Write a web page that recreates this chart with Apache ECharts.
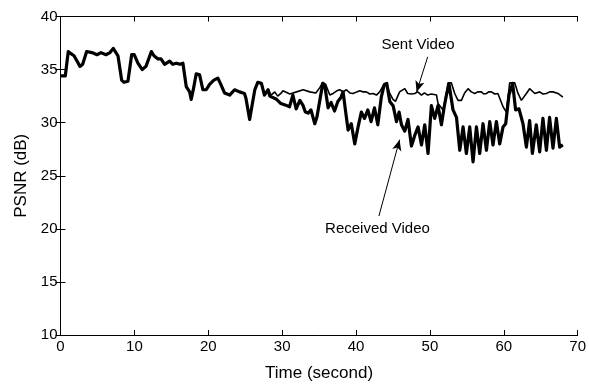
<!DOCTYPE html>
<html>
<head>
<meta charset="utf-8">
<script src="https://cdn.jsdelivr.net/npm/echarts@6/dist/echarts.min.js"></script>
<style>
  html, body { margin: 0; padding: 0; background: #fff; }
  #chart { width: 589px; height: 388px; }
</style>
</head>
<body>
<div id="chart"></div>
<script>
// Both streams follow the same PSNR trace for the first ~28 s.
const sharedTime = [0.0, 0.65, 1.05, 1.42, 1.83, 2.64, 3.0, 3.54, 4.26, 4.94, 5.48, 6.15, 6.7, 7.14, 7.78,
  8.28, 8.59, 9.13, 9.63, 9.98, 10.48, 11.06, 11.57, 12.3, 12.65, 12.92, 13.19, 13.6, 14.09, 14.77,
  15.2, 15.66, 16.16, 16.57, 17.02, 17.48, 17.69, 18.0, 18.37, 18.83, 19.27, 19.72, 20.18, 20.76,
  21.3, 21.7, 22.2, 22.9, 23.56, 24.24, 24.9, 25.1, 25.6, 25.9, 26.3, 26.7, 27.2, 27.6, 28.1];
const sharedPsnr = [34.4, 34.4, 36.7, 36.5, 36.3, 35.3, 35.5, 36.7, 36.6, 36.4, 36.6, 36.4, 36.6, 37.0, 36.3,
  34.0, 33.8, 33.9, 36.4, 36.4, 35.6, 35.0, 35.3, 36.7, 36.3, 36.4, 36.0, 36.0, 35.5, 35.8,
  35.5, 35.6, 35.5, 35.6, 33.4, 32.9, 32.2, 33.2, 34.6, 34.5, 33.1, 33.1, 33.6, 34.0,
  34.2, 33.6, 32.8, 32.6, 33.1, 32.9, 32.75, 32.3, 30.3, 31.5, 33.1, 33.8, 33.7, 32.6, 33.1];

// Sent video after the split
const sentTime = [28.5, 29.0, 29.4, 29.9, 30.1, 31.05, 31.95, 32.84, 33.75, 34.56, 35.1, 35.5, 35.9, 36.45,
  36.9, 37.4, 37.8, 38.25, 38.7, 39.16, 39.6, 40.1, 40.5, 40.96, 41.4, 41.86, 42.3, 42.77, 43.2, 43.7,
  44.1, 44.53, 45.0, 45.34, 45.9, 46.6, 47.0, 47.5, 47.95, 48.36, 48.86, 49.26, 49.7, 50.2, 50.9,
  51.1, 51.78, 52.15, 52.45, 52.9, 53.36, 53.8, 54.27, 54.7, 55.16, 55.6, 56.07, 56.47, 56.97, 57.3,
  57.65, 57.96, 58.33, 58.77, 59.2, 59.9, 60.35, 60.8, 61.48, 61.93, 62.38, 63.06, 63.5, 64.2, 64.86,
  65.3, 65.77, 66.2, 66.66, 67.33, 68.0];
const sentPsnr = [32.6, 32.9, 32.5, 32.8, 33.0, 32.7, 32.9, 33.1, 32.9, 32.8, 33.3, 33.8, 33.6, 32.6,
  32.75, 33.0, 33.1, 32.9, 33.1, 32.8, 32.75, 32.9, 33.0, 32.9, 32.9, 32.7, 32.75, 32.6, 32.9, 33.5,
  33.75, 32.8, 32.2, 32.0, 32.9, 33.2, 32.75, 32.7, 32.75, 32.9, 32.6, 32.8, 32.6, 32.7, 32.6,
  31.8, 31.2, 32.5, 33.75, 33.75, 32.75, 32.1, 32.1, 32.8, 33.2, 32.9, 32.75, 32.9, 32.9, 32.7,
  32.75, 32.9, 32.9, 32.7, 32.75, 31.5, 31.0, 33.75, 33.75, 32.75, 32.1, 32.75, 33.2, 32.75, 32.9,
  32.7, 32.75, 32.9, 32.9, 32.75, 32.4];

// Received video after the split
const recvTime = [28.33, 29.24, 29.83, 30.5, 31.0, 31.45, 31.9, 32.4, 32.84, 33.14, 33.52, 33.9, 34.42,
  34.7, 35.1, 35.5, 35.77, 36.22, 36.63, 37.09, 37.54, 37.98, 38.25, 38.62, 38.93, 39.36, 39.83, 40.28,
  40.72, 41.15, 41.6, 42.04, 42.5, 42.95, 43.42, 43.83, 44.16, 44.57, 45.02, 45.48, 45.83, 46.15, 46.6,
  47.04, 47.5, 47.95, 48.4, 48.86, 49.3, 49.75, 50.2, 50.65, 51.1, 51.56, 51.94, 52.24, 52.6, 53.13,
  53.6, 54.04, 54.49, 54.94, 55.39, 55.84, 56.3, 56.74, 57.19, 57.65, 58.1, 58.54, 59.0, 59.45, 59.9,
  60.26, 60.7, 61.2, 61.6, 62.06, 62.6, 63.06, 63.5, 63.87, 64.4, 64.86, 65.3, 65.77, 66.2, 66.66,
  67.12, 67.56, 68.0];
const recvPsnr = [32.5, 32.2, 31.8, 31.65, 31.5, 32.6, 31.3, 32.1, 31.6, 31.0, 30.9, 31.2, 29.9,
  30.5, 32.1, 33.7, 33.5, 31.4, 31.9, 31.1, 32.0, 32.4, 32.9, 30.9, 29.3, 29.9, 28.0, 29.6,
  31.0, 30.4, 31.2, 30.1, 31.4, 29.8, 32.4, 33.6, 33.7, 32.0, 31.6, 30.1, 31.0, 29.8, 29.2,
  30.3, 27.8, 28.8, 29.6, 27.9, 29.8, 27.1, 31.6, 30.4, 31.6, 29.8, 31.5, 32.6, 33.6, 31.2,
  30.5, 27.4, 29.6, 27.1, 29.6, 26.3, 29.6, 27.1, 29.9, 27.4, 30.1, 27.9, 30.1, 28.0, 29.6,
  29.9, 32.6, 33.7, 31.2, 31.3, 29.9, 27.7, 30.2, 27.1, 29.8, 27.25, 30.4, 27.4, 30.5, 27.6,
  30.4, 27.7, 27.9];

const xTicks = { min: 0, max: 70, step: 10 };
const yTicks = { min: 10, max: 40, step: 5 };

// Annotation callouts: label text and arrow ends in data units
const sentNote = { text: 'Sent Video', label: [48.4, 37.3], from: [49.7, 36.2], to: [48.2, 32.9] };
const recvNote = { text: 'Received Video', label: [42.9, 20.0], from: [43.1, 21.2], to: [45.9, 28.4] };

function pairs(ts, vs) { return ts.map((t, i) => [t, vs[i]]); }
const sentData = pairs(sharedTime, sharedPsnr).concat(pairs(sentTime, sentPsnr));
const recvData = pairs(sharedTime, sharedPsnr).concat(pairs(recvTime, recvPsnr));

const FONT = 'Liberation Sans, Arial, Helvetica, sans-serif';
const axisText = { color: '#000', fontSize: 15, fontFamily: FONT };
const lineStyle = { color: '#000', width: 1 };

const chart = echarts.init(document.getElementById('chart'), null, { renderer: 'canvas' });

function arrowLine(note) {
  return [{ coord: note.from, symbol: 'none' }, { coord: note.to, symbol: 'arrow', symbolSize: [7, 11] }];
}

chart.setOption({
  animation: false,
  backgroundColor: '#fff',
  grid: { left: 60.5, right: 11, top: 16.5, bottom: 53 },
  xAxis: [
    {
      type: 'value', min: xTicks.min, max: xTicks.max, interval: xTicks.step,
      name: 'Time (second)', nameLocation: 'middle', nameGap: 30,
      nameTextStyle: { color: '#000', fontSize: 17, fontFamily: FONT },
      axisLine: { lineStyle }, axisTick: { inside: true, length: 5, lineStyle },
      axisLabel: Object.assign({ margin: 4 }, axisText), splitLine: { show: false }
    },
    {
      type: 'value', position: 'top', min: xTicks.min, max: xTicks.max, interval: xTicks.step,
      axisLine: { lineStyle }, axisTick: { inside: true, length: 5, lineStyle },
      axisLabel: { show: false }, splitLine: { show: false }
    }
  ],
  yAxis: [
    {
      type: 'value', min: yTicks.min, max: yTicks.max, interval: yTicks.step,
      name: 'PSNR (dB)', nameLocation: 'middle', nameGap: 30,
      nameTextStyle: { color: '#000', fontSize: 17, fontFamily: FONT },
      axisLine: { lineStyle }, axisTick: { inside: true, length: 5, lineStyle },
      axisLabel: Object.assign({ margin: 3 }, axisText), splitLine: { show: false }
    },
    {
      type: 'value', position: 'right', min: yTicks.min, max: yTicks.max, interval: yTicks.step,
      axisLine: { lineStyle }, axisTick: { inside: true, length: 5, lineStyle },
      axisLabel: { show: false }, splitLine: { show: false }
    }
  ],
  series: [
    {
      name: 'Sent Video', type: 'line', data: sentData, showSymbol: false,
      lineStyle: { color: '#000', width: 1.6 }, z: 2,
      markLine: {
        silent: true, symbol: ['none', 'arrow'], label: { show: false },
        lineStyle: { color: '#000', width: 1, type: 'solid' },
        data: [arrowLine(sentNote), arrowLine(recvNote)]
      }
    },
    {
      name: 'Received Video', type: 'line', data: recvData, showSymbol: false,
      lineStyle: { color: '#000', width: 3.2, join: 'round' }, z: 3
    }
  ]
});

function noteText(note) {
  const p = chart.convertToPixel({ gridIndex: 0 }, note.label);
  return {
    type: 'text', x: p[0], y: p[1],
    style: { text: note.text, fill: '#000', font: '15px ' + FONT, textAlign: 'center', textVerticalAlign: 'middle' }
  };
}
chart.setOption({ graphic: [noteText(sentNote), noteText(recvNote)] });
</script>
</body>
</html>
